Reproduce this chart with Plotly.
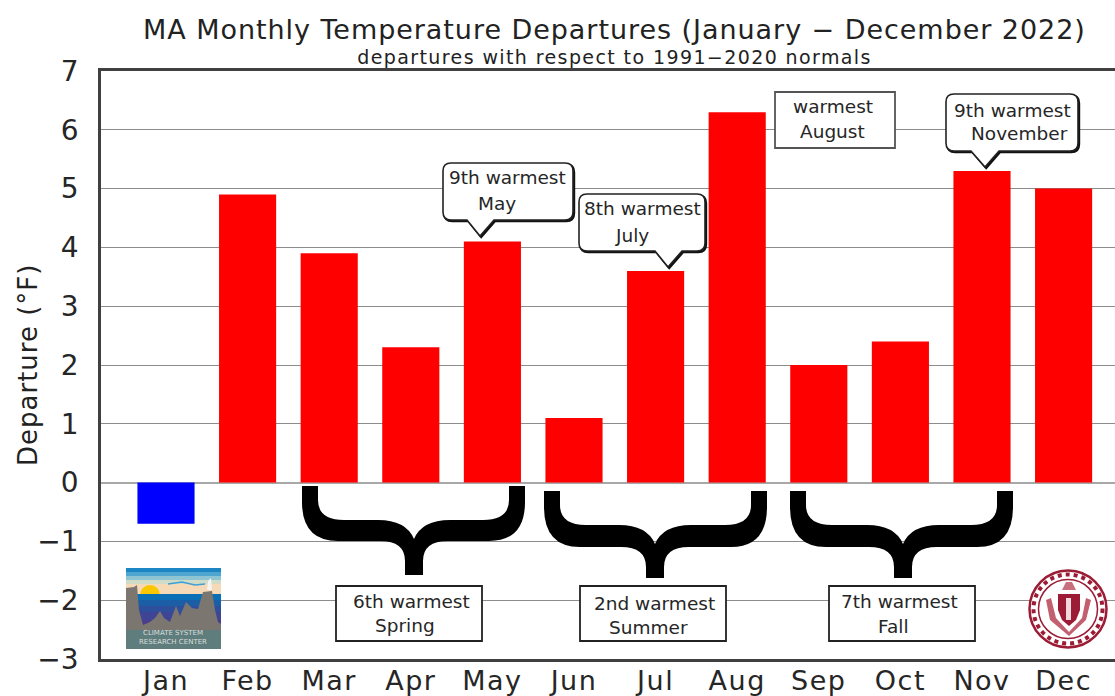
import plotly.graph_objects as go

months = ["Jan", "Feb", "Mar", "Apr", "May", "Jun", "Jul", "Aug", "Sep", "Oct", "Nov", "Dec"]
departures = [-0.7, 4.9, 3.9, 2.3, 4.1, 1.1, 3.6, 6.3, 2.0, 2.4, 5.3, 5.0]
y_ticks = [-3, -2, -1, 0, 1, 2, 3, 4, 5, 6, 7]
y_labels = ["\u22123", "\u22122", "\u22121", "0", "1", "2", "3", "4", "5", "6", "7"]

W, H = 1115, 696
L, T, R, B = 101, 71, 1115, 659
FONT = "DejaVu Sans"
INK = "#262626"


def px(x):
    return (x - L) / (R - L)


def py(y):
    return (B - y) / (B - T)


def P(x, y):
    return f"{px(x):.5f},{py(y):.5f}"


shapes = []
annots = []


def path(d, fill="rgba(0,0,0,0)", line="#000", width=0):
    shapes.append(dict(type="path", xref="paper", yref="paper", path=d, fillcolor=fill,
                       line=dict(color=line, width=width), layer="above"))


def rect(x0, y0, x1, y1, fill, line="#000", width=0):
    shapes.append(dict(type="rect", xref="paper", yref="paper", x0=px(x0), x1=px(x1), y0=py(y1), y1=py(y0),
                       fillcolor=fill, line=dict(color=line, width=width), layer="above"))


def circle(cx, cy, r, fill="rgba(0,0,0,0)", line="#000", width=0, dash="solid"):
    shapes.append(dict(type="circle", xref="paper", yref="paper", x0=px(cx - r), x1=px(cx + r), y0=py(cy + r), y1=py(cy - r),
                       fillcolor=fill, line=dict(color=line, width=width, dash=dash), layer="above"))


def poly(points, fill):
    d = "M " + " L ".join(P(*p) for p in points) + " Z"
    path(d, fill=fill)


def text(x, y, s, size=18, color=INK, angle=0):
    annots.append(dict(xref="paper", yref="paper", x=px(x), y=py(y), text=s, showarrow=False, xanchor="center",
                       yanchor="middle", textangle=angle, font=dict(family=FONT, size=size, color=color)))


def brace(x0, x1, xc, top, tip, hi, lo):
    t = 16
    d = (f"M {P(x0, top)} L {P(x0 + t, top)} L {P(x0 + t, top + 14)} "
         f"Q {P(x0 + t, hi)} {P(x0 + t + 26, hi)} L {P(xc - 36, hi)} "
         f"Q {P(xc - 8, hi)} {P(xc, hi + 19)} Q {P(xc + 8, hi)} {P(xc + 36, hi)} "
         f"L {P(x1 - t - 26, hi)} Q {P(x1 - t, hi)} {P(x1 - t, top + 14)} L {P(x1 - t, top)} L {P(x1, top)} "
         f"L {P(x1, top + 16)} Q {P(x1, lo)} {P(x1 - 36, lo)} L {P(xc + 34, lo)} "
         f"Q {P(xc + 9, lo)} {P(xc + 9, lo + 20)} L {P(xc + 9, tip)} L {P(xc - 9, tip)} L {P(xc - 9, lo + 20)} "
         f"Q {P(xc - 9, lo)} {P(xc - 34, lo)} L {P(x0 + 36, lo)} Q {P(x0, lo)} {P(x0, top + 16)} Z")
    path(d, fill="#000")


def callout(x0, y0, x1, y1, tx, ty, b0, b1):
    r = 8

    def outline(o):
        return (f"M {P(x0 + r + o, y0 + o)} L {P(x1 - r + o, y0 + o)} Q {P(x1 + o, y0 + o)} {P(x1 + o, y0 + r + o)} "
                f"L {P(x1 + o, y1 - r + o)} Q {P(x1 + o, y1 + o)} {P(x1 - r + o, y1 + o)} L {P(b1 + o, y1 + o)} "
                f"L {P(tx + o, ty + o)} L {P(b0 + o, y1 + o)} L {P(x0 + r + o, y1 + o)} "
                f"Q {P(x0 + o, y1 + o)} {P(x0 + o, y1 - r + o)} L {P(x0 + o, y0 + r + o)} "
                f"Q {P(x0 + o, y0 + o)} {P(x0 + r + o, y0 + o)} Z")

    path(outline(1.2), fill="#111", line="#111", width=2)
    path(outline(0), fill="#fff", line="#222", width=1.6)


# braces under the seasons
brace(302, 525, 414, 486, 575, 520, 541)
brace(544, 767, 655, 491, 578, 525, 547)
brace(790, 1013, 903, 491, 578, 525, 547)

# season boxes
for bx, sx, s1, s2, ty1, ty2 in [(336, 411, "6th warmest", "Spring", 601, 625),
                                 (580, 654, "2nd warmest", "Summer", 603, 627),
                                 (829, 899, "7th warmest", "Fall", 601, 626)]:
    rect(bx, 586, bx + 146, 641, "#fff", "#222", 1.8)
    text(sx, ty1, s1, 18.5)
    text(sx - 6, ty2, s2, 18.5)

# August box and pointer callouts
rect(775, 92, 895, 148, "#fff", "#555", 1.8)
text(833, 106, "warmest", 18.5)
text(832, 132, "August", 18.5)

callout(443, 163, 573, 220, 480, 236, 467, 494)
text(507, 177, "9th warmest", 18.5)
text(497, 204, "May", 18.5)
callout(579, 194, 705, 251, 668, 267, 655, 682)
text(642, 208, "8th warmest", 18.5)
text(632, 235, "July", 18.5)
callout(946, 94, 1078, 151, 985, 167, 971, 999)
text(1012, 110, "9th warmest", 18.5)
text(1019, 134, "November", 18.5)

# Climate System Research Center logo
for y0, y1, c in [(568, 572, "#1c86c4"), (572, 576, "#4ea5cf"), (576, 580, "#8fc4d2"), (580, 584, "#cfdcc8"),
                  (584, 594, "#f6d9b6")]:
    rect(126, y0, 221, y1, c)
circle(150, 595, 10, fill="#f7c800")
for y0, y1, c in [(594, 600, "#0a6fb5"), (600, 606, "#1c5ea6"), (606, 612, "#2d4f9c"), (612, 620, "#3f4495"),
                  (620, 630, "#4a3d8c")]:
    rect(126, y0, 221, y1, c)
poly([(126, 588), (134, 587), (137, 585), (139, 610), (143, 625), (150, 622), (155, 618), (160, 611), (164, 618),
      (170, 622), (176, 606), (180, 616), (186, 602), (192, 608), (198, 609), (203, 592), (212, 591), (215, 610),
      (218, 622), (221, 624), (221, 649), (126, 649)], "#7b7670")
rect(126, 630, 221, 649, "#5f7d7c")
poly([(207, 590), (208, 581), (211, 578), (212, 590)], "#f4f4f4")
path(f"M {P(168, 584)} L {P(182, 582)} L {P(195, 585)} L {P(205, 584)}", line="#3f9fd4", width=1.5)
text(173, 633, "CLIMATE SYSTEM", 7, "#d8dedd")
text(173, 642, "RESEARCH CENTER", 7, "#d8dedd")

# Massachusetts seal
SEAL = "#9b1c34"
circle(1068, 609, 38.5, fill="#fff", line=SEAL, width=2.5)
circle(1068, 609, 34.5, line=SEAL, width=4, dash="dot")
circle(1068, 609, 29.5, line=SEAL, width=1.5)
poly([(1058, 594), (1080, 594), (1080, 610), (1076, 620), (1069, 626), (1062, 620), (1058, 610)], SEAL)
poly([(1062, 590), (1066, 582), (1072, 582), (1076, 590)], "#c9707f")
poly([(1046, 600), (1051, 598), (1056, 618), (1069, 632), (1082, 618), (1086, 598), (1091, 600), (1086, 620), (1069, 636), (1050, 620)], "#c3606f")
rect(1066, 598, 1071, 620, "#f0d8dc")

# titles and axis label
text(614, 29, "MA Monthly Temperature Departures (January \u2212 December 2022)", 27, "#222")
text(614, 57, "departures with respect to 1991\u22122020 normals", 19, "#222")
text(28, 365, "Departure (\u00b0F)", 26, "#222", angle=-90)

colors = ["#0000ff" if v < 0 else "#ff0000" for v in departures]

fig = go.Figure(go.Bar(x=list(range(len(months))), y=departures, marker=dict(color=colors, line=dict(width=0)),
                       width=0.7, hoverinfo="skip"))

axis_line = dict(showline=True, linecolor="#404040", linewidth=2.5, mirror=True)
fig.update_layout(
    width=W, height=H, margin=dict(l=L, r=W - R, t=T, b=H - B, pad=0, autoexpand=False), paper_bgcolor="#fff", plot_bgcolor="#fff",
    showlegend=False, shapes=shapes, annotations=annots, font=dict(family=FONT, color=INK),
    xaxis=dict(range=[(L - 166) / 81.6, (R - 166) / 81.6], tickmode="array", tickvals=list(range(len(months))), ticktext=months,
               showgrid=False, zeroline=False, ticks="", ticklabelstandoff=-4,
               tickfont=dict(family=FONT, size=27, color=INK), **axis_line),
    yaxis=dict(range=[-3, 7], tickmode="array", tickvals=y_ticks, ticktext=y_labels, showgrid=True, gridcolor="#8c8c8c",
               gridwidth=1, zeroline=True, zerolinecolor="#a8a8a8", zerolinewidth=2, ticks="", ticklabelstandoff=14,
               tickfont=dict(family=FONT, size=28, color=INK), **axis_line),
)
post = """
document.body.style.margin='0';
document.querySelectorAll('.xtick text').forEach(function(t){t.style.letterSpacing='1.5px';});
document.querySelectorAll('.annotation-text').forEach(function(t){
  var s=t.textContent;
  if(s.indexOf('MA Monthly')===0){t.style.letterSpacing='0.95px';}
  else if(s.indexOf('departures')===0){t.style.letterSpacing='1.4px';}
  else if(s.indexOf('Departure')===0){t.style.letterSpacing='1px';}
});
"""
fig.write_html("out.html", post_script=post, config={"displayModeBar": False})
